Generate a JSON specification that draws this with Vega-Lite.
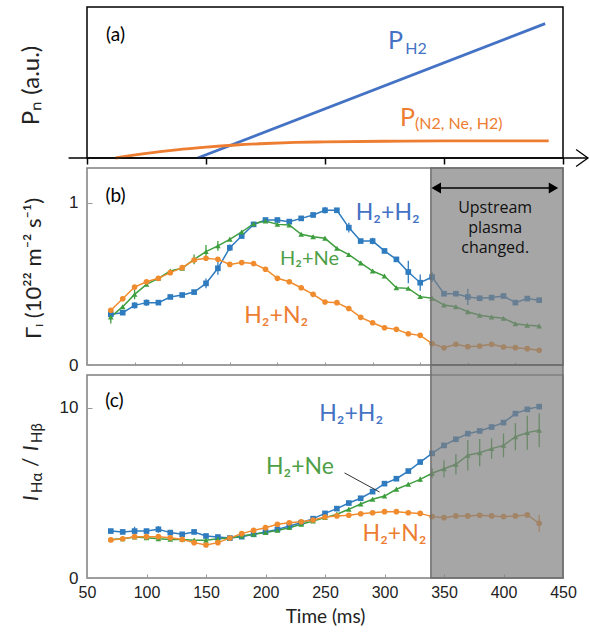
{
  "$schema": "https://vega.github.io/schema/vega-lite/v6.json",
  "padding": {"left": 18, "top": 6, "right": 2, "bottom": 4},
  "background": "white",
  "bounds": "flush",
  "spacing": 10,
  "resolve": {"scale": {"color": "independent", "shape": "independent"}},
  "config": {
    "axis": {"labelFont": "Liberation Sans", "labelFontSize": 17, "labelColor": "#222", "titleFont": "Lato", "titleFontSize": 18, "titleFontWeight": "normal", "titleColor": "#222", "grid": false, "domain": false, "labelFlush": false, "labelOverlap": false},
    "axisX": {"labelFlush": false, "labelOverlap": false},
    "text": {"font": "Lato"}
  },
  "datasets": {
    "pn": [
      {"t": 143, "v": 0, "s": "H2"}, {"t": 435, "v": 0.89, "s": "H2"},
      {"t": 74, "v": 0, "s": "mix"}, {"t": 100, "v": 0.03, "s": "mix"}, {"t": 125, "v": 0.054, "s": "mix"}, {"t": 150, "v": 0.072, "s": "mix"}, {"t": 175, "v": 0.086, "s": "mix"}, {"t": 200, "v": 0.096, "s": "mix"}, {"t": 225, "v": 0.103, "s": "mix"}, {"t": 250, "v": 0.107, "s": "mix"}, {"t": 300, "v": 0.111, "s": "mix"}, {"t": 350, "v": 0.113, "s": "mix"}, {"t": 438, "v": 0.113, "s": "mix"}
    ],
    "gamma": [
      {"t": 70, "s": "H2+H2", "v": 0.313, "e": 0.03}, {"t": 80, "s": "H2+H2", "v": 0.323, "e": 0.01}, {"t": 90, "s": "H2+H2", "v": 0.368, "e": 0.02}, {"t": 100, "s": "H2+H2", "v": 0.385, "e": 0.02}, {"t": 110, "s": "H2+H2", "v": 0.385, "e": 0.01}, {"t": 120, "s": "H2+H2", "v": 0.42, "e": 0.01}, {"t": 130, "s": "H2+H2", "v": 0.432, "e": 0.01}, {"t": 140, "s": "H2+H2", "v": 0.45, "e": 0.01}, {"t": 150, "s": "H2+H2", "v": 0.504, "e": 0.03}, {"t": 160, "s": "H2+H2", "v": 0.597, "e": 0.04}, {"t": 170, "s": "H2+H2", "v": 0.724, "e": 0.02}, {"t": 180, "s": "H2+H2", "v": 0.796, "e": 0.01}, {"t": 190, "s": "H2+H2", "v": 0.868, "e": 0.01}, {"t": 200, "s": "H2+H2", "v": 0.895, "e": 0.01}, {"t": 210, "s": "H2+H2", "v": 0.895, "e": 0.01}, {"t": 220, "s": "H2+H2", "v": 0.885, "e": 0.01}, {"t": 230, "s": "H2+H2", "v": 0.905, "e": 0.01}, {"t": 240, "s": "H2+H2", "v": 0.926, "e": 0.01}, {"t": 250, "s": "H2+H2", "v": 0.955, "e": 0.02}, {"t": 260, "s": "H2+H2", "v": 0.955, "e": 0.01}, {"t": 270, "s": "H2+H2", "v": 0.848, "e": 0.03}, {"t": 280, "s": "H2+H2", "v": 0.765, "e": 0.01}, {"t": 290, "s": "H2+H2", "v": 0.765, "e": 0.02}, {"t": 300, "s": "H2+H2", "v": 0.704, "e": 0.01}, {"t": 310, "s": "H2+H2", "v": 0.652, "e": 0.01}, {"t": 320, "s": "H2+H2", "v": 0.574, "e": 0.07}, {"t": 330, "s": "H2+H2", "v": 0.508, "e": 0.05}, {"t": 340, "s": "H2+H2", "v": 0.543, "e": 0.03}, {"t": 350, "s": "H2+H2", "v": 0.44, "e": 0.01}, {"t": 360, "s": "H2+H2", "v": 0.44, "e": 0.01}, {"t": 370, "s": "H2+H2", "v": 0.42, "e": 0.05}, {"t": 380, "s": "H2+H2", "v": 0.412, "e": 0.01}, {"t": 390, "s": "H2+H2", "v": 0.416, "e": 0.01}, {"t": 400, "s": "H2+H2", "v": 0.426, "e": 0.01}, {"t": 410, "s": "H2+H2", "v": 0.385, "e": 0.01}, {"t": 420, "s": "H2+H2", "v": 0.41, "e": 0.01}, {"t": 430, "s": "H2+H2", "v": 0.4, "e": 0.01},
      {"t": 70, "s": "H2+Ne", "v": 0.296, "e": 0.04}, {"t": 80, "s": "H2+Ne", "v": 0.36, "e": 0.01}, {"t": 90, "s": "H2+Ne", "v": 0.436, "e": 0.03}, {"t": 100, "s": "H2+Ne", "v": 0.498, "e": 0.01}, {"t": 110, "s": "H2+Ne", "v": 0.535, "e": 0.01}, {"t": 120, "s": "H2+Ne", "v": 0.58, "e": 0.01}, {"t": 130, "s": "H2+Ne", "v": 0.597, "e": 0.01}, {"t": 140, "s": "H2+Ne", "v": 0.652, "e": 0.03}, {"t": 150, "s": "H2+Ne", "v": 0.7, "e": 0.04}, {"t": 160, "s": "H2+Ne", "v": 0.735, "e": 0.03}, {"t": 170, "s": "H2+Ne", "v": 0.776, "e": 0.01}, {"t": 180, "s": "H2+Ne", "v": 0.821, "e": 0.01}, {"t": 190, "s": "H2+Ne", "v": 0.872, "e": 0.01}, {"t": 200, "s": "H2+Ne", "v": 0.889, "e": 0.01}, {"t": 210, "s": "H2+Ne", "v": 0.868, "e": 0.01}, {"t": 220, "s": "H2+Ne", "v": 0.864, "e": 0.01}, {"t": 230, "s": "H2+Ne", "v": 0.807, "e": 0.01}, {"t": 240, "s": "H2+Ne", "v": 0.792, "e": 0.01}, {"t": 250, "s": "H2+Ne", "v": 0.782, "e": 0.01}, {"t": 260, "s": "H2+Ne", "v": 0.72, "e": 0.01}, {"t": 270, "s": "H2+Ne", "v": 0.681, "e": 0.01}, {"t": 280, "s": "H2+Ne", "v": 0.63, "e": 0.01}, {"t": 290, "s": "H2+Ne", "v": 0.58, "e": 0.01}, {"t": 300, "s": "H2+Ne", "v": 0.549, "e": 0.01}, {"t": 310, "s": "H2+Ne", "v": 0.477, "e": 0.01}, {"t": 320, "s": "H2+Ne", "v": 0.473, "e": 0.01}, {"t": 330, "s": "H2+Ne", "v": 0.422, "e": 0.01}, {"t": 340, "s": "H2+Ne", "v": 0.412, "e": 0.01}, {"t": 350, "s": "H2+Ne", "v": 0.37, "e": 0.01}, {"t": 360, "s": "H2+Ne", "v": 0.36, "e": 0.01}, {"t": 370, "s": "H2+Ne", "v": 0.329, "e": 0.01}, {"t": 380, "s": "H2+Ne", "v": 0.307, "e": 0.01}, {"t": 390, "s": "H2+Ne", "v": 0.296, "e": 0.01}, {"t": 400, "s": "H2+Ne", "v": 0.288, "e": 0.01}, {"t": 410, "s": "H2+Ne", "v": 0.255, "e": 0.01}, {"t": 420, "s": "H2+Ne", "v": 0.245, "e": 0.01}, {"t": 430, "s": "H2+Ne", "v": 0.241, "e": 0.01},
      {"t": 70, "s": "H2+N2", "v": 0.338, "e": 0}, {"t": 80, "s": "H2+N2", "v": 0.409, "e": 0}, {"t": 90, "s": "H2+N2", "v": 0.481, "e": 0}, {"t": 100, "s": "H2+N2", "v": 0.514, "e": 0}, {"t": 110, "s": "H2+N2", "v": 0.535, "e": 0}, {"t": 120, "s": "H2+N2", "v": 0.57, "e": 0}, {"t": 130, "s": "H2+N2", "v": 0.601, "e": 0}, {"t": 140, "s": "H2+N2", "v": 0.648, "e": 0}, {"t": 150, "s": "H2+N2", "v": 0.659, "e": 0}, {"t": 160, "s": "H2+N2", "v": 0.652, "e": 0}, {"t": 170, "s": "H2+N2", "v": 0.621, "e": 0}, {"t": 180, "s": "H2+N2", "v": 0.632, "e": 0}, {"t": 190, "s": "H2+N2", "v": 0.626, "e": 0}, {"t": 200, "s": "H2+N2", "v": 0.591, "e": 0}, {"t": 210, "s": "H2+N2", "v": 0.535, "e": 0}, {"t": 220, "s": "H2+N2", "v": 0.514, "e": 0}, {"t": 230, "s": "H2+N2", "v": 0.477, "e": 0}, {"t": 240, "s": "H2+N2", "v": 0.436, "e": 0}, {"t": 250, "s": "H2+N2", "v": 0.389, "e": 0}, {"t": 260, "s": "H2+N2", "v": 0.385, "e": 0}, {"t": 270, "s": "H2+N2", "v": 0.349, "e": 0}, {"t": 280, "s": "H2+N2", "v": 0.294, "e": 0}, {"t": 290, "s": "H2+N2", "v": 0.261, "e": 0}, {"t": 300, "s": "H2+N2", "v": 0.23, "e": 0}, {"t": 310, "s": "H2+N2", "v": 0.22, "e": 0}, {"t": 320, "s": "H2+N2", "v": 0.193, "e": 0}, {"t": 330, "s": "H2+N2", "v": 0.183, "e": 0}, {"t": 340, "s": "H2+N2", "v": 0.132, "e": 0}, {"t": 350, "s": "H2+N2", "v": 0.106, "e": 0}, {"t": 360, "s": "H2+N2", "v": 0.128, "e": 0}, {"t": 370, "s": "H2+N2", "v": 0.113, "e": 0}, {"t": 380, "s": "H2+N2", "v": 0.117, "e": 0}, {"t": 390, "s": "H2+N2", "v": 0.128, "e": 0}, {"t": 400, "s": "H2+N2", "v": 0.111, "e": 0}, {"t": 410, "s": "H2+N2", "v": 0.107, "e": 0}, {"t": 420, "s": "H2+N2", "v": 0.101, "e": 0}, {"t": 430, "s": "H2+N2", "v": 0.091, "e": 0}
    ],
    "ratio": [
      {"t": 70, "s": "H2+H2", "v": 2.76, "e": 0.1}, {"t": 80, "s": "H2+H2", "v": 2.71, "e": 0.1}, {"t": 90, "s": "H2+H2", "v": 2.76, "e": 0.25}, {"t": 100, "s": "H2+H2", "v": 2.76, "e": 0.1}, {"t": 110, "s": "H2+H2", "v": 2.86, "e": 0.2}, {"t": 120, "s": "H2+H2", "v": 2.67, "e": 0.1}, {"t": 130, "s": "H2+H2", "v": 2.57, "e": 0.1}, {"t": 140, "s": "H2+H2", "v": 2.71, "e": 0.1}, {"t": 150, "s": "H2+H2", "v": 2.47, "e": 0.1}, {"t": 160, "s": "H2+H2", "v": 2.41, "e": 0.1}, {"t": 170, "s": "H2+H2", "v": 2.35, "e": 0.1}, {"t": 180, "s": "H2+H2", "v": 2.43, "e": 0.1}, {"t": 190, "s": "H2+H2", "v": 2.57, "e": 0.1}, {"t": 200, "s": "H2+H2", "v": 2.71, "e": 0.1}, {"t": 210, "s": "H2+H2", "v": 2.86, "e": 0.1}, {"t": 220, "s": "H2+H2", "v": 3.06, "e": 0.1}, {"t": 230, "s": "H2+H2", "v": 3.25, "e": 0.1}, {"t": 240, "s": "H2+H2", "v": 3.49, "e": 0.1}, {"t": 250, "s": "H2+H2", "v": 3.8, "e": 0.1}, {"t": 260, "s": "H2+H2", "v": 4.08, "e": 0.1}, {"t": 270, "s": "H2+H2", "v": 4.41, "e": 0.1}, {"t": 280, "s": "H2+H2", "v": 4.69, "e": 0.1}, {"t": 290, "s": "H2+H2", "v": 5.08, "e": 0.1}, {"t": 300, "s": "H2+H2", "v": 5.55, "e": 0.1}, {"t": 310, "s": "H2+H2", "v": 5.84, "e": 0.1}, {"t": 320, "s": "H2+H2", "v": 6.29, "e": 0.1}, {"t": 330, "s": "H2+H2", "v": 6.82, "e": 0.1}, {"t": 340, "s": "H2+H2", "v": 7.33, "e": 0.1}, {"t": 350, "s": "H2+H2", "v": 7.8, "e": 0.1}, {"t": 360, "s": "H2+H2", "v": 8.16, "e": 0.1}, {"t": 370, "s": "H2+H2", "v": 8.49, "e": 0.1}, {"t": 380, "s": "H2+H2", "v": 8.65, "e": 0.1}, {"t": 390, "s": "H2+H2", "v": 8.88, "e": 0.1}, {"t": 400, "s": "H2+H2", "v": 9.14, "e": 0.1}, {"t": 410, "s": "H2+H2", "v": 9.67, "e": 0.1}, {"t": 420, "s": "H2+H2", "v": 9.92, "e": 0.1}, {"t": 430, "s": "H2+H2", "v": 10.08, "e": 0.1},
      {"t": 70, "s": "H2+Ne", "v": 2.27, "e": 0.1}, {"t": 80, "s": "H2+Ne", "v": 2.31, "e": 0.1}, {"t": 90, "s": "H2+Ne", "v": 2.41, "e": 0.1}, {"t": 100, "s": "H2+Ne", "v": 2.37, "e": 0.1}, {"t": 110, "s": "H2+Ne", "v": 2.31, "e": 0.1}, {"t": 120, "s": "H2+Ne", "v": 2.27, "e": 0.1}, {"t": 130, "s": "H2+Ne", "v": 2.27, "e": 0.1}, {"t": 140, "s": "H2+Ne", "v": 2.22, "e": 0.1}, {"t": 150, "s": "H2+Ne", "v": 2.22, "e": 0.1}, {"t": 160, "s": "H2+Ne", "v": 2.31, "e": 0.1}, {"t": 170, "s": "H2+Ne", "v": 2.35, "e": 0.1}, {"t": 180, "s": "H2+Ne", "v": 2.47, "e": 0.1}, {"t": 190, "s": "H2+Ne", "v": 2.57, "e": 0.1}, {"t": 200, "s": "H2+Ne", "v": 2.67, "e": 0.1}, {"t": 210, "s": "H2+Ne", "v": 2.8, "e": 0.1}, {"t": 220, "s": "H2+Ne", "v": 2.96, "e": 0.1}, {"t": 230, "s": "H2+Ne", "v": 3.16, "e": 0.1}, {"t": 240, "s": "H2+Ne", "v": 3.35, "e": 0.1}, {"t": 250, "s": "H2+Ne", "v": 3.55, "e": 0.1}, {"t": 260, "s": "H2+Ne", "v": 3.75, "e": 0.1}, {"t": 270, "s": "H2+Ne", "v": 4.04, "e": 0.1}, {"t": 280, "s": "H2+Ne", "v": 4.35, "e": 0.1}, {"t": 290, "s": "H2+Ne", "v": 4.63, "e": 0.1}, {"t": 300, "s": "H2+Ne", "v": 4.82, "e": 0.1}, {"t": 310, "s": "H2+Ne", "v": 5.22, "e": 0.1}, {"t": 320, "s": "H2+Ne", "v": 5.51, "e": 0.1}, {"t": 330, "s": "H2+Ne", "v": 5.8, "e": 0.15}, {"t": 340, "s": "H2+Ne", "v": 6.16, "e": 0.3}, {"t": 350, "s": "H2+Ne", "v": 6.43, "e": 0.5}, {"t": 360, "s": "H2+Ne", "v": 6.69, "e": 0.6}, {"t": 370, "s": "H2+Ne", "v": 7.22, "e": 0.9}, {"t": 380, "s": "H2+Ne", "v": 7.37, "e": 0.8}, {"t": 390, "s": "H2+Ne", "v": 7.61, "e": 0.6}, {"t": 400, "s": "H2+Ne", "v": 7.8, "e": 0.7}, {"t": 410, "s": "H2+Ne", "v": 8.31, "e": 0.8}, {"t": 420, "s": "H2+Ne", "v": 8.55, "e": 1.0}, {"t": 430, "s": "H2+Ne", "v": 8.69, "e": 1.0},
      {"t": 70, "s": "H2+N2", "v": 2.24, "e": 0.05}, {"t": 80, "s": "H2+N2", "v": 2.31, "e": 0.05}, {"t": 90, "s": "H2+N2", "v": 2.43, "e": 0.05}, {"t": 100, "s": "H2+N2", "v": 2.43, "e": 0.05}, {"t": 110, "s": "H2+N2", "v": 2.43, "e": 0.05}, {"t": 120, "s": "H2+N2", "v": 2.37, "e": 0.05}, {"t": 130, "s": "H2+N2", "v": 2.27, "e": 0.05}, {"t": 140, "s": "H2+N2", "v": 2.08, "e": 0.05}, {"t": 150, "s": "H2+N2", "v": 1.94, "e": 0.05}, {"t": 160, "s": "H2+N2", "v": 2.08, "e": 0.05}, {"t": 170, "s": "H2+N2", "v": 2.35, "e": 0.05}, {"t": 180, "s": "H2+N2", "v": 2.61, "e": 0.05}, {"t": 190, "s": "H2+N2", "v": 2.8, "e": 0.05}, {"t": 200, "s": "H2+N2", "v": 2.96, "e": 0.05}, {"t": 210, "s": "H2+N2", "v": 3.16, "e": 0.05}, {"t": 220, "s": "H2+N2", "v": 3.25, "e": 0.05}, {"t": 230, "s": "H2+N2", "v": 3.31, "e": 0.05}, {"t": 240, "s": "H2+N2", "v": 3.41, "e": 0.05}, {"t": 250, "s": "H2+N2", "v": 3.59, "e": 0.05}, {"t": 260, "s": "H2+N2", "v": 3.65, "e": 0.05}, {"t": 270, "s": "H2+N2", "v": 3.69, "e": 0.05}, {"t": 280, "s": "H2+N2", "v": 3.78, "e": 0.05}, {"t": 290, "s": "H2+N2", "v": 3.84, "e": 0.05}, {"t": 300, "s": "H2+N2", "v": 3.9, "e": 0.05}, {"t": 310, "s": "H2+N2", "v": 3.9, "e": 0.05}, {"t": 320, "s": "H2+N2", "v": 3.84, "e": 0.05}, {"t": 330, "s": "H2+N2", "v": 3.8, "e": 0.05}, {"t": 340, "s": "H2+N2", "v": 3.61, "e": 0.05}, {"t": 350, "s": "H2+N2", "v": 3.55, "e": 0.05}, {"t": 360, "s": "H2+N2", "v": 3.65, "e": 0.05}, {"t": 370, "s": "H2+N2", "v": 3.65, "e": 0.05}, {"t": 380, "s": "H2+N2", "v": 3.69, "e": 0.05}, {"t": 390, "s": "H2+N2", "v": 3.65, "e": 0.05}, {"t": 400, "s": "H2+N2", "v": 3.61, "e": 0.05}, {"t": 410, "s": "H2+N2", "v": 3.65, "e": 0.05}, {"t": 420, "s": "H2+N2", "v": 3.71, "e": 0.1}, {"t": 430, "s": "H2+N2", "v": 3.22, "e": 0.5}
    ]
  },
  "vconcat": [
    {
      "width": 476, "height": 151,
      "view": {"stroke": "#000", "strokeWidth": 1.5},
      "layer": [
        {"data": {"name": "pn"}, "mark": {"type": "line", "strokeWidth": 2.8, "interpolate": "monotone"},
         "encoding": {
           "x": {"field": "t", "type": "quantitative", "scale": {"domain": [50, 450], "nice": false}, "axis": {"values": [50, 150, 250, 350, 450], "labels": false, "tickSize": 6, "tickWidth": 1.5, "tickColor": "#000", "title": null}},
           "y": {"field": "v", "type": "quantitative", "scale": {"domain": [0, 1], "nice": false}, "axis": {"ticks": false, "labels": false, "title": "Pₙ (a.u.)", "titleFontSize": 24, "titleX": -56, "titleY": 78, "titleBaseline": "middle"}},
           "color": {"field": "s", "type": "nominal", "scale": {"domain": ["H2", "mix"], "range": ["#4472C4", "#ED7D31"]}, "legend": null}
         }},
        {"data": {"values": [{}]}, "mark": {"type": "rule", "strokeWidth": 1.3, "color": "#000"},
         "encoding": {"x": {"datum": 34.5}, "x2": {"datum": 471}, "y": {"datum": 0}}},
        {"data": {"values": [{}]}, "mark": {"type": "point", "shape": "M -1.4 -1 L 0 0 L -1.4 1", "size": 289, "filled": false, "stroke": "#000", "strokeWidth": 1.3, "opacity": 1},
         "encoding": {"x": {"datum": 471}, "y": {"datum": 0}}},
        {"data": {"values": [{}]}, "mark": {"type": "text", "text": "(a)", "fontSize": 19, "color": "#000", "align": "center", "baseline": "middle"},
         "encoding": {"x": {"datum": 74}, "y": {"datum": 0.816}}},
        {"data": {"values": [{}]}, "mark": {"type": "text", "text": "P", "fontSize": 25, "color": "#4472C4", "align": "left", "baseline": "alphabetic"},
         "encoding": {"x": {"datum": 303}, "y": {"datum": 0.724}}},
        {"data": {"values": [{}]}, "mark": {"type": "text", "text": "H2", "fontSize": 16, "color": "#4472C4", "align": "left", "baseline": "alphabetic"},
         "encoding": {"x": {"datum": 317.5}, "y": {"datum": 0.69}}},
        {"data": {"values": [{}]}, "mark": {"type": "text", "text": "P", "fontSize": 25, "color": "#ED7D31", "align": "left", "baseline": "alphabetic"},
         "encoding": {"x": {"datum": 313}, "y": {"datum": 0.21}}},
        {"data": {"values": [{}]}, "mark": {"type": "text", "text": "(N2, Ne, H2)", "fontSize": 16, "color": "#ED7D31", "align": "left", "baseline": "alphabetic"},
         "encoding": {"x": {"datum": 325.7}, "y": {"datum": 0.19}}}
      ]
    },
    {
      "width": 476, "height": 197,
      "view": {"stroke": "#7f7f7f", "strokeWidth": 1.5},
      "layer": [
        {"data": {"name": "gamma"}, "mark": {"type": "line", "strokeWidth": 1.5},
         "encoding": {
           "x": {"field": "t", "type": "quantitative", "scale": {"domain": [50, 450], "nice": false}, "axis": {"values": [50, 60, 70, 80, 90, 100, 110, 120, 130, 140, 150, 160, 170, 180, 190, 200, 210, 220, 230, 240, 250, 260, 270, 280, 290, 300, 310, 320, 330, 340, 350, 360, 370, 380, 390, 400, 410, 420, 430, 440, 450], "labels": false, "tickSize": -3, "tickColor": "#999", "title": null}},
           "y": {"field": "v", "type": "quantitative", "scale": {"domain": [0, 1.216], "nice": false}, "title": "Γᵢ (10²² m⁻² s⁻¹)", "axis": {"values": [0, 1], "format": "d", "tickSize": -5, "tickColor": "#999", "labelPadding": 14, "title": "Γᵢ (10²² m⁻² s⁻¹)", "titleFontSize": 22, "titleX": -54, "titleY": 100, "titleBaseline": "middle"}},
           "color": {"field": "s", "type": "nominal", "scale": {"domain": ["H2+H2", "H2+Ne", "H2+N2"], "range": ["#2E7BBF", "#3E9E3E", "#F08C2E"]}, "legend": null}
         }},
        {"data": {"name": "gamma"}, "transform": [{"filter": "datum.e > 0"}], "mark": {"type": "errorbar", "thickness": 1.3},
         "encoding": {
           "x": {"field": "t", "type": "quantitative", "title": null, "scale": {"domain": [50, 450], "nice": false}},
           "y": {"field": "v", "type": "quantitative", "title": "Γᵢ (10²² m⁻² s⁻¹)", "scale": {"domain": [0, 1.216], "nice": false}},
           "yError": {"field": "e"},
           "color": {"field": "s", "type": "nominal", "scale": {"domain": ["H2+H2", "H2+Ne", "H2+N2"], "range": ["#2E7BBF", "#3E9E3E", "#F08C2E"]}, "legend": null}
         }},
        {"data": {"name": "gamma"}, "mark": {"type": "point", "filled": true, "size": 32, "opacity": 1},
         "encoding": {
           "x": {"field": "t", "type": "quantitative", "title": null, "scale": {"domain": [50, 450], "nice": false}},
           "y": {"field": "v", "type": "quantitative", "title": "Γᵢ (10²² m⁻² s⁻¹)", "scale": {"domain": [0, 1.216], "nice": false}},
           "color": {"field": "s", "type": "nominal", "scale": {"domain": ["H2+H2", "H2+Ne", "H2+N2"], "range": ["#2E7BBF", "#3E9E3E", "#F08C2E"]}, "legend": null},
           "shape": {"field": "s", "type": "nominal", "scale": {"domain": ["H2+H2", "H2+Ne", "H2+N2"], "range": ["square", "triangle-up", "circle"]}, "legend": null}
         }},
        {"data": {"values": [{}]}, "mark": {"type": "rect", "fill": "#808080", "fillOpacity": 0.7, "stroke": "#6e6e6e", "strokeWidth": 1.5},
         "encoding": {"x": {"datum": 339}, "x2": {"datum": 450}, "y": {"datum": 0}, "y2": {"datum": 1.216}}},
        {"data": {"values": [{}]}, "mark": {"type": "rule", "strokeWidth": 1.5, "color": "#000"},
         "encoding": {"x": {"datum": 342}, "x2": {"datum": 444}, "y": {"datum": 1.093}}},
        {"data": {"values": [{}]}, "mark": {"type": "point", "shape": "triangle-left", "size": 120, "filled": true, "color": "#000", "opacity": 1},
         "encoding": {"x": {"datum": 343.5}, "y": {"datum": 1.093}}},
        {"data": {"values": [{}]}, "mark": {"type": "point", "shape": "triangle-right", "size": 120, "filled": true, "color": "#000", "opacity": 1},
         "encoding": {"x": {"datum": 442}, "y": {"datum": 1.093}}},
        {"data": {"values": [{}]}, "mark": {"type": "text", "text": ["Upstream", "plasma", "changed."], "font": "Open Sans", "fontSize": 16, "lineHeight": 20, "color": "#111", "align": "center", "baseline": "top"},
         "encoding": {"x": {"datum": 393}, "y": {"datum": 1.02}}},
        {"data": {"values": [{}]}, "mark": {"type": "text", "text": "(b)", "fontSize": 19, "color": "#000", "align": "center", "baseline": "middle"},
         "encoding": {"x": {"datum": 74}, "y": {"datum": 1.043}}},
        {"data": {"values": [{}]}, "mark": {"type": "text", "text": "H₂+H₂", "fontSize": 23, "color": "#4472C4", "align": "center", "baseline": "middle"},
         "encoding": {"x": {"datum": 302.7}, "y": {"datum": 0.938}}},
        {"data": {"values": [{}]}, "mark": {"type": "text", "text": "H₂+Ne", "fontSize": 20, "color": "#4E9F47", "align": "center", "baseline": "middle"},
         "encoding": {"x": {"datum": 237}, "y": {"datum": 0.654}}},
        {"data": {"values": [{}]}, "mark": {"type": "text", "text": "H₂+N₂", "fontSize": 23, "color": "#ED7D31", "align": "center", "baseline": "middle"},
         "encoding": {"x": {"datum": 209}, "y": {"datum": 0.302}}}
      ]
    },
    {
      "width": 476, "height": 203,
      "view": {"stroke": "#7f7f7f", "strokeWidth": 1.5},
      "layer": [
        {"data": {"name": "ratio"}, "mark": {"type": "line", "strokeWidth": 1.5},
         "encoding": {
           "x": {"field": "t", "type": "quantitative", "scale": {"domain": [50, 450], "nice": false}, "title": "Time (ms)", "axis": {"values": [50, 100, 150, 200, 250, 300, 350, 400, 450], "format": "d", "labelFlush": false, "labelFontSize": 16, "labelPadding": 10, "tickSize": -4, "tickColor": "#999", "title": "Time (ms)", "titleFontSize": 19, "titlePadding": 7}},
           "y": {"field": "v", "type": "quantitative", "scale": {"domain": [0, 11.94], "nice": false}, "title": null, "axis": {"values": [0, 10], "format": "d", "tickSize": -5, "tickColor": "#999", "labelPadding": 14, "title": null}},
           "color": {"field": "s", "type": "nominal", "scale": {"domain": ["H2+H2", "H2+Ne", "H2+N2"], "range": ["#2E7BBF", "#3E9E3E", "#F08C2E"]}, "legend": null}
         }},
        {"data": {"name": "ratio"}, "transform": [{"filter": "datum.e > 0"}], "mark": {"type": "errorbar", "thickness": 1.3},
         "encoding": {
           "x": {"field": "t", "type": "quantitative", "title": "Time (ms)", "scale": {"domain": [50, 450], "nice": false}},
           "y": {"field": "v", "type": "quantitative", "title": null, "scale": {"domain": [0, 11.94], "nice": false}},
           "yError": {"field": "e"},
           "color": {"field": "s", "type": "nominal", "scale": {"domain": ["H2+H2", "H2+Ne", "H2+N2"], "range": ["#2E7BBF", "#3E9E3E", "#F08C2E"]}, "legend": null}
         }},
        {"data": {"name": "ratio"}, "mark": {"type": "point", "filled": true, "size": 32, "opacity": 1},
         "encoding": {
           "x": {"field": "t", "type": "quantitative", "title": "Time (ms)", "scale": {"domain": [50, 450], "nice": false}},
           "y": {"field": "v", "type": "quantitative", "title": null, "scale": {"domain": [0, 11.94], "nice": false}},
           "color": {"field": "s", "type": "nominal", "scale": {"domain": ["H2+H2", "H2+Ne", "H2+N2"], "range": ["#2E7BBF", "#3E9E3E", "#F08C2E"]}, "legend": null},
           "shape": {"field": "s", "type": "nominal", "scale": {"domain": ["H2+H2", "H2+Ne", "H2+N2"], "range": ["square", "triangle-up", "circle"]}, "legend": null}
         }},
        {"data": {"values": [{}]}, "mark": {"type": "rect", "fill": "#808080", "fillOpacity": 0.7, "stroke": "#6e6e6e", "strokeWidth": 1.5},
         "encoding": {"x": {"datum": 339}, "x2": {"datum": 450}, "y": {"datum": 0}, "y2": {"datum": 12.53}}},
        {"data": {"values": [{}]}, "mark": {"type": "rule", "strokeWidth": 1, "color": "#333"},
         "encoding": {"x": {"datum": 266.4}, "x2": {"datum": 295.8}, "y": {"datum": 6.18}, "y2": {"datum": 5.06}}},
        {"data": {"values": [{}]}, "mark": {"type": "text", "text": "(c)", "fontSize": 19, "color": "#000", "align": "center", "baseline": "middle"},
         "encoding": {"x": {"datum": 73}, "y": {"datum": 10.41}}},
        {"data": {"values": [{}]}, "mark": {"type": "text", "text": "H₂+H₂", "fontSize": 23, "color": "#4472C4", "align": "center", "baseline": "middle"},
         "encoding": {"x": {"datum": 272}, "y": {"datum": 9.65}}},
        {"data": {"values": [{}]}, "mark": {"type": "text", "text": "H₂+Ne", "fontSize": 23, "color": "#4E9F47", "align": "center", "baseline": "middle"},
         "encoding": {"x": {"datum": 229}, "y": {"datum": 6.53}}},
        {"data": {"values": [{}]}, "mark": {"type": "text", "text": "H₂+N₂", "fontSize": 23, "color": "#ED7D31", "align": "center", "baseline": "middle"},
         "encoding": {"x": {"datum": 308.4}, "y": {"datum": 2.59}}},
        {"data": {"values": [{}]}, "mark": {"type": "text", "text": "I", "fontSize": 21, "fontStyle": "italic", "angle": 270, "align": "left", "baseline": "middle", "dx": 0, "dy": -55, "color": "#222"},
         "encoding": {"x": {"datum": 50}, "y": {"datum": 4.53}}},
        {"data": {"values": [{}]}, "mark": {"type": "text", "text": "Hα", "fontSize": 15, "angle": 270, "align": "left", "baseline": "middle", "dx": 8, "dy": -50, "color": "#222"},
         "encoding": {"x": {"datum": 50}, "y": {"datum": 4.53}}},
        {"data": {"values": [{}]}, "mark": {"type": "text", "text": "/", "fontSize": 21, "angle": 270, "align": "left", "baseline": "middle", "dx": 34, "dy": -55, "color": "#222"},
         "encoding": {"x": {"datum": 50}, "y": {"datum": 4.53}}},
        {"data": {"values": [{}]}, "mark": {"type": "text", "text": "I", "fontSize": 21, "fontStyle": "italic", "angle": 270, "align": "left", "baseline": "middle", "dx": 50, "dy": -55, "color": "#222"},
         "encoding": {"x": {"datum": 50}, "y": {"datum": 4.53}}},
        {"data": {"values": [{}]}, "mark": {"type": "text", "text": "Hβ", "fontSize": 15, "angle": 270, "align": "left", "baseline": "middle", "dx": 58, "dy": -50, "color": "#222"},
         "encoding": {"x": {"datum": 50}, "y": {"datum": 4.53}}}
      ]
    }
  ]
}
